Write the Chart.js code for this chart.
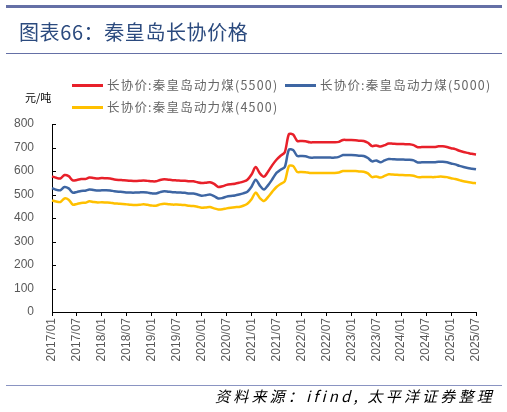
<!DOCTYPE html>
<html>
<head>
<meta charset="utf-8">
<script src="https://cdn.jsdelivr.net/npm/chart.js@4.4.1/dist/chart.umd.min.js"></script>
<style>
  html, body { margin:0; padding:0; background:#fff; }
  #wrap { position:relative; width:507px; height:412px; overflow:hidden; font-family:"Noto Sans CJK SC", sans-serif; }
  #cv { position:absolute; left:0; top:0; }
  .abs { position:absolute; white-space:nowrap; }
  #topbar { left:6px; top:5px; width:496px; height:3px; background:#6570A6; }
  #tline { left:6px; top:53px; width:496px; height:1px; background:#6570A6; }
  #bline { left:6px; top:385px; width:496px; height:1px; background:#8A94C2; }
  #title { left:19px; top:18px; font-size:20px; color:#2B4A7E; line-height:28px; letter-spacing:0.6px; }
  #unit { left:25px; top:89px; font-size:11px; color:#000; line-height:16px; }
  #src { left:215px; top:386px; font-size:15px; color:#000; font-style:italic; line-height:20px; letter-spacing:3.2px; }
  .lg { font-size:12.5px; color:#666; line-height:16px; letter-spacing:1.2px; }
  .sw { height:3px; width:31px; }
</style>
</head>
<body>
<div id="wrap">
  <canvas id="cv" width="507" height="412"></canvas>
  <div id="topbar" class="abs"></div>
  <div id="title" class="abs">图表66：秦皇岛长协价格</div>
  <div id="tline" class="abs"></div>
  <div id="unit" class="abs">元/吨</div>
  <div class="abs sw" id="sw1" style="left:72px;top:84px;background:#E8202A"></div>
  <div class="abs lg" id="lg1" style="left:107px;top:77px">长协价:秦皇岛动力煤(5500)</div>
  <div class="abs sw" id="sw2" style="left:285px;top:84px;background:#3E66A3"></div>
  <div class="abs lg" id="lg2" style="left:320px;top:77px">长协价:秦皇岛动力煤(5000)</div>
  <div class="abs sw" id="sw3" style="left:72px;top:106px;background:#FFC000"></div>
  <div class="abs lg" id="lg3" style="left:107px;top:99px">长协价:秦皇岛动力煤(4500)</div>
  <div id="bline" class="abs"></div>
  <div id="src" class="abs">资料来源：ifind, 太平洋证券整理</div>
</div>
<script>
// ---- data ----
const startYear = 2017;
const monthCount = 103; // 2017/01 .. 2025/07
const categories = [];
for (let i = 0; i < monthCount; i++) {
  const y = startYear + Math.floor(i / 12);
  const m = (i % 12) + 1;
  categories.push(y + '/' + (m < 10 ? '0' + m : m));
}
const seriesNames = ['长协价:秦皇岛动力煤(5500)', '长协价:秦皇岛动力煤(5000)', '长协价:秦皇岛动力煤(4500)'];
const price5500 = [
  577,571,568,583,578,560,562,566,566,572,570,568,
  570,569,568,564,562,561,560,558,557,558,560,558,
  556,556,562,565,563,561,560,559,558,556,556,552,
  549,550,552,545,532,535,541,544,546,550,555,563,
  585,617,590,576,598,625,648,665,680,757,755,728,
  728,727,722,722,722,722,722,722,722,724,732,732,
  732,731,729,728,720,706,709,704,710,717,716,715,
  715,714,714,710,701,702,702,702,702,705,705,702,
  697,693,686,681,677,673,670
];
const price5000 = [
  527,520,518,532,526,508,511,515,516,521,519,517,
  518,518,517,514,512,511,509,508,508,509,510,508,
  505,504,510,514,512,510,509,508,507,504,504,500,
  495,497,500,493,483,485,491,494,496,500,505,512,
  533,563,538,521,540,565,592,605,617,691,689,664,
  664,663,657,657,657,657,657,657,657,660,668,668,
  668,667,665,664,655,641,645,637,645,651,650,649,
  649,648,648,645,636,637,637,637,637,639,639,637,
  632,628,622,617,613,610,607
];
const price4500 = [
  475,470,468,483,478,457,460,464,465,471,468,466,
  467,466,465,462,461,460,458,456,455,456,458,456,
  453,452,458,461,459,457,457,456,455,452,451,448,
  444,445,447,441,436,437,441,444,446,447,452,461,
  480,508,485,472,490,512,532,545,556,621,621,596,
  596,595,592,592,592,592,592,592,592,594,600,600,
  600,600,598,597,590,574,577,572,579,586,585,584,
  583,582,582,580,574,574,574,574,574,576,576,574,
  569,566,561,556,553,550,548
];
const yTicks = [0,100,200,300,400,500,600,700,800];
const colors = ['#E8202A', '#3E66A3', '#FFC000'];

const innerTicks = {
  id: 'innerTicks',
  afterDraw(chart) {
    const ctx = chart.ctx, ys = chart.scales.y, area = chart.chartArea;
    ctx.save();
    ctx.strokeStyle = '#000';
    ctx.lineWidth = 1;
    ctx.beginPath();
    yTicks.forEach(v => {
      const p = Math.round(ys.getPixelForValue(v)) + 0.5;
      ctx.moveTo(area.left, p);
      ctx.lineTo(area.left + 4, p);
    });
    ctx.stroke();
    ctx.restore();
  }
};

new Chart(document.getElementById('cv'), {
  type: 'line',
  data: {
    labels: categories,
    datasets: [
      { label: seriesNames[0], data: price5500, borderColor: colors[0] },
      { label: seriesNames[1], data: price5000, borderColor: colors[1] },
      { label: seriesNames[2], data: price4500, borderColor: colors[2] }
    ].map(d => Object.assign(d, { borderWidth: 2.5, pointRadius: 0, tension: 0.3, fill: false }))
  },
  options: {
    responsive: false,
    animation: false,
    devicePixelRatio: 1,
    layout: { padding: { left: 0, right: 31, top: 124, bottom: 0 } },
    plugins: { legend: { display: false }, tooltip: { enabled: false } },
    scales: {
      x: {
        type: 'category',
        offset: false,
        grid: { display: true, drawOnChartArea: false, drawTicks: true, tickLength: 4, color: '#000' },
        border: { display: true, color: '#000', width: 1 },
        ticks: {
          autoSkip: false, maxRotation: 90, minRotation: 90, padding: 2,
          color: '#595959', font: { size: 12, family: 'Liberation Sans, Arial, sans-serif' },
          callback: function(v, i) { return i % 6 === 0 ? categories[i] : null; }
        },
        afterFit: s => { s.height = 100; }
      },
      y: {
        min: 0, max: 800,
        afterBuildTicks: s => { s.ticks = yTicks.map(v => ({ value: v })); },
        grid: { display: false },
        border: { display: true, color: '#000', width: 1 },
        ticks: { color: '#595959', padding: 10, font: { size: 12, family: 'Liberation Sans, Arial, sans-serif' } },
        afterFit: s => { s.width = 52; }
      }
    }
  },
  plugins: [innerTicks]
});
</script>
</body>
</html>
